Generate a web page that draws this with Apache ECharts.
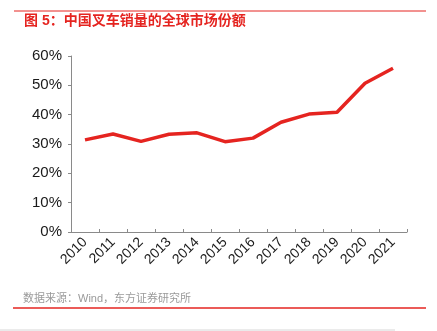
<!DOCTYPE html>
<html>
<head>
<meta charset="utf-8">
<script src="https://cdn.jsdelivr.net/npm/echarts@6/dist/echarts.min.js"></script>
<style>
  html, body { margin: 0; padding: 0; background: #fff; }
  #chart { width: 437px; height: 331px; }
</style>
</head>
<body>
<div id="chart"></div>
<script>
// Share of global forklift sales held by Chinese makers, 2010-2021 (%)
const years = ['2010', '2011', '2012', '2013', '2014', '2015', '2016', '2017', '2018', '2019', '2020', '2021'];
const shareValues = [31.4, 33.4, 30.9, 33.3, 33.8, 30.8, 32.0, 37.4, 40.2, 40.8, 50.7, 55.8];
const yTicks = [0, 10, 20, 30, 40, 50, 60];

const titleText = '图 5：中国叉车销量的全球市场份额';
const sourceText = '数据来源：Wind，东方证券研究所';

const red = '#e52420';
const font = '"Liberation Sans", Arial, "Noto Sans CJK SC", sans-serif';

const chart = echarts.init(document.getElementById('chart'));
chart.setOption({
  animation: false,
  backgroundColor: '#fff',
  grid: { left: 71, right: 30, top: 56, bottom: 99, containLabel: false },
  xAxis: {
    type: 'category',
    data: years,
    boundaryGap: true,
    axisLine: { lineStyle: { color: '#8a8a8a', width: 1 } },
    axisTick: { show: true, inside: true, length: 3, lineStyle: { color: '#8a8a8a' } },
    axisLabel: { rotate: 45, color: '#1a1a1a', fontSize: 14, fontFamily: font, margin: 8, interval: 0 }
  },
  yAxis: {
    type: 'value',
    min: yTicks[0],
    max: yTicks[yTicks.length - 1],
    interval: 10,
    axisLine: { show: true, lineStyle: { color: '#8a8a8a', width: 1 } },
    axisTick: { show: true, length: 3, lineStyle: { color: '#8a8a8a' } },
    splitLine: { show: false },
    axisLabel: { color: '#1a1a1a', fontSize: 15, fontFamily: font, margin: 9, formatter: v => v + '%' }
  },
  series: [{
    type: 'line',
    data: shareValues,
    symbol: 'none',
    lineStyle: { color: red, width: 3.5 },
    itemStyle: { color: red }
  }],
  graphic: [
    { type: 'line', shape: { x1: 14, y1: 11, x2: 426, y2: 11 }, style: { stroke: red, lineWidth: 1 } },
    { type: 'text', left: 24, top: 14, style: { text: titleText, fill: red, font: 'bold 14px ' + font } },
    { type: 'text', left: 23, top: 293, style: { text: sourceText, fill: '#9a9a9a', font: '11px ' + font } },
    { type: 'line', shape: { x1: 13, y1: 308, x2: 426, y2: 308 }, style: { stroke: red, lineWidth: 1.5 } },
    { type: 'line', shape: { x1: 0, y1: 330, x2: 395, y2: 330 }, style: { stroke: '#d6d6d6', lineWidth: 1 } }
  ]
});
</script>
</body>
</html>
